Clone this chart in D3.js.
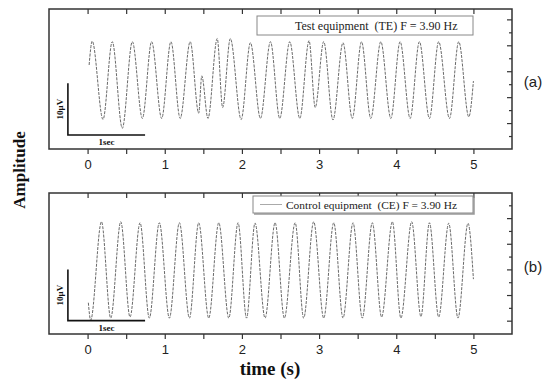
<!DOCTYPE html>
<html>
<head>
<meta charset="utf-8">
<script src="https://cdn.jsdelivr.net/npm/d3@7"></script>
<style>
  html, body { margin: 0; padding: 0; background: #fff; }
  svg { display: block; }
</style>
</head>
<body>
<svg id="chart" width="550" height="383"></svg>
<script>
// ---- data ----
const xTicks = [-0.5, 0, 0.5, 1, 1.5, 2, 2.5, 3, 3.5, 4, 4.5, 5, 5.5];
const xTickLabels = ["0", "1", "2", "3", "4", "5"];

// Test equipment (TE): successive samples at peaks/troughs, time (s) and amplitude (µV)
const teTimes = [0.02, 0.06, 0.20, 0.32, 0.45, 0.58, 0.71, 0.83, 0.96, 1.08, 1.20, 1.33, 1.44, 1.48, 1.56, 1.68, 1.75, 1.85, 1.99, 2.11, 2.24, 2.37, 2.49, 2.62, 2.75, 2.87, 2.95, 3.06, 3.18, 3.31, 3.43, 3.55, 3.67, 3.80, 3.93, 4.05, 4.18, 4.30, 4.43, 4.55, 4.69, 4.81, 4.94, 5.00];
const teValues = [1.2, 5.8, -9.3, 5.7, -11.0, 5.7, -9.1, 5.7, -9.1, 5.7, -9.1, 5.7, -8.1, -0.9, -9.1, 6.3, -7.0, 6.3, -9.3, 5.5, -9.1, 5.7, -9.1, 5.7, -9.1, 5.9, -7.0, 5.7, -9.4, 5.5, -9.1, 5.7, -9.1, 5.7, -9.1, 5.7, -9.1, 5.7, -9.1, 5.7, -9.1, 5.7, -8.8, -1.9];

// Control equipment (CE)
const ceTimes = [0.01, 0.04, 0.18, 0.30, 0.43, 0.55, 0.68, 0.80, 0.93, 1.06, 1.19, 1.32, 1.44, 1.57, 1.70, 1.83, 1.95, 2.06, 2.17, 2.30, 2.43, 2.55, 2.69, 2.80, 2.93, 3.06, 3.19, 3.31, 3.44, 3.56, 3.69, 3.81, 3.95, 4.06, 4.20, 4.32, 4.43, 4.55, 4.68, 4.80, 4.93, 5.00];
const ceValues = [-6.5, -9.9, 9.3, -9.5, 9.3, -9.3, 9.1, -9.5, 9.1, -9.5, 9.1, -9.5, 9.1, -9.5, 9.1, -9.5, 9.1, -9.5, 9.05, -9.5, 9.1, -9.5, 9.1, -9.5, 9.3, -9.5, 9.1, -9.5, 9.1, -9.5, 9.1, -9.3, 9.3, -9.5, 9.3, -9.2, 9.1, -9.3, 9.0, -9.5, 9.0, -1.9];

const legendTexts = ["Test equipment  (TE) F = 3.90 Hz", "Control equipment  (CE) F = 3.90 Hz"];
const panelLabels = ["(a)", "(b)"];
const yTicksTop = [-12.5, -10, -7.5, -5, -2.5, 0, 2.5, 5, 7.5, 10];
const yTicksBottom = [-10, -7.5, -5, -2.5, 0, 2.5, 5, 7.5, 10, 12.5];
// scale bars: origin time, origin amplitude, 1 s, 10 µV
const scaleBarTop = [-0.255, -12.3, 1, 10];
const scaleBarBottom = [-0.255, -10.0, 1, 10];

// ---- layout ----
const svg = d3.select("#chart");
const L = 49, R = 512;
const panels = [
  { top: 9, bottom: 149, yDom: [-15, 12], times: teTimes, values: teValues, yTicks: yTicksTop,
    legend: legendTexts[0], label: panelLabels[0], bar: scaleBarTop,
    box: [257, 16, 216, 19], sample: false, fs: 12 },
  { top: 193, bottom: 334, yDom: [-12.6, 14.9], times: ceTimes, values: ceValues, yTicks: yTicksBottom,
    legend: legendTexts[1], label: panelLabels[1], bar: scaleBarBottom,
    box: [253, 196, 220, 17], sample: true, fs: 11.4 }
];

const x = d3.scaleLinear().domain([-0.5, 5.5]).range([L, R]);
const frameColor = "#333";

panels.forEach(p => {
  const y = d3.scaleLinear().domain(p.yDom).range([p.bottom, p.top]);
  const g = svg.append("g");

  // signal
  const line = d3.line()
    .x((d, i) => x(p.times[i]))
    .y((d, i) => y(p.values[i]))
    .curve(d3.curveMonotoneX);
  g.append("path")
    .datum(p.values)
    .attr("d", line)
    .attr("fill", "none")
    .attr("stroke", "#6a6a6a")
    .attr("stroke-width", 1)
    .attr("stroke-dasharray", "3,1.2");

  // bottom axis (outward ticks)
  const xb = d3.axisBottom(x).tickValues(xTicks.filter(t => t > -0.5 && t < 5.5))
    .tickSize(5).tickPadding(6)
    .tickFormat(d => Number.isInteger(d) ? xTickLabels[d] : "");
  const gb = g.append("g").attr("transform", `translate(0,${p.bottom})`).call(xb);
  gb.select(".domain").remove();
  gb.selectAll("line").attr("stroke", frameColor).attr("stroke-width", 1.2);
  gb.selectAll("text").attr("font-family", "'Liberation Sans', Arial, sans-serif")
    .attr("font-size", 13).attr("fill", "#222");

  // top axis (inward ticks)
  const xt = d3.axisBottom(x).tickValues(xTicks.filter(t => t > -0.5 && t < 5.5))
    .tickSize(5).tickFormat("");
  const gt = g.append("g").attr("transform", `translate(0,${p.top})`).call(xt);
  gt.select(".domain").remove();
  gt.selectAll("line").attr("stroke", frameColor).attr("stroke-width", 1.2);

  // right axis (inward ticks, major/minor)
  const yr = d3.axisRight(y).tickValues(p.yTicks).tickSize(0).tickFormat("");
  const gr = g.append("g").attr("transform", `translate(${R},0)`).call(yr);
  gr.select(".domain").remove();
  gr.selectAll(".tick line")
    .attr("x2", d => (d % 5 === 0) ? -5 : -3)
    .attr("stroke", frameColor).attr("stroke-width", 1.2);

  // frame
  g.append("rect")
    .attr("x", L).attr("y", p.top)
    .attr("width", R - L).attr("height", p.bottom - p.top)
    .attr("fill", "none").attr("stroke", frameColor).attr("stroke-width", 1.5);

  // legend box
  const [bx, by, bw, bh] = p.box;
  if (p.sample) {
    g.append("path")
      .attr("d", `M${bx + 1},${by + bh + 1}H${bx + bw + 1}V${by + 1}`)
      .attr("fill", "none").attr("stroke", "#999").attr("stroke-width", 1.5);
  }
  g.append("rect").attr("x", bx).attr("y", by).attr("width", bw).attr("height", bh)
    .attr("fill", "#fff").attr("stroke", "#888").attr("stroke-width", 1);
  if (p.sample) {
    g.append("line").attr("x1", bx + 7).attr("x2", bx + 29)
      .attr("y1", by + bh / 2).attr("y2", by + bh / 2)
      .attr("stroke", "#aaa").attr("stroke-width", 1);
    g.append("text").attr("x", bx + 33).attr("y", by + bh / 2 + 4)
      .style("white-space", "pre")
      .attr("font-family", "'Liberation Serif', 'Times New Roman', serif")
      .attr("font-size", p.fs).attr("fill", "#222").text(p.legend);
  } else {
    g.append("text").attr("x", bx + 38).attr("y", by + bh / 2 + 4)
      .style("white-space", "pre")
      .attr("font-family", "'Liberation Serif', 'Times New Roman', serif")
      .attr("font-size", p.fs).attr("fill", "#222").text(p.legend);
  }

  // scale bar
  const [t0, v0, dt, dv] = p.bar;
  g.append("path")
    .attr("d", `M${x(t0)},${y(v0 + dv)}V${y(v0)}H${x(t0 + dt)}`)
    .attr("fill", "none").attr("stroke", "#111").attr("stroke-width", 1.6);
  const midY = (y(v0 + dv) + y(v0)) / 2;
  g.append("text")
    .attr("transform", `translate(${x(t0) - 5},${midY}) rotate(-90)`)
    .attr("text-anchor", "middle")
    .attr("font-family", "'Liberation Serif', 'Times New Roman', serif")
    .attr("font-weight", "bold").attr("font-size", 9).attr("fill", "#111")
    .text("10µV");
  g.append("text")
    .attr("x", x(t0 + dt / 2)).attr("y", y(v0) + 10)
    .attr("text-anchor", "middle")
    .attr("font-family", "'Liberation Serif', 'Times New Roman', serif")
    .attr("font-weight", "bold").attr("font-size", 9).attr("fill", "#111")
    .text("1sec");

  // panel label
  g.append("text")
    .attr("x", 533).attr("y", (p.top + p.bottom) / 2 + 8)
    .attr("text-anchor", "middle")
    .attr("font-family", "'Liberation Sans', Arial, sans-serif")
    .attr("font-size", 15).attr("fill", "#222")
    .text(p.label);
});

// axis titles
svg.append("text")
  .attr("x", 270).attr("y", 375)
  .attr("text-anchor", "middle")
  .attr("font-family", "'Liberation Serif', 'Times New Roman', serif")
  .attr("font-weight", "bold").attr("font-size", 19).attr("fill", "#111")
  .text("time (s)");
svg.append("text")
  .attr("transform", "translate(25,170) rotate(-90)")
  .attr("text-anchor", "middle")
  .attr("font-family", "'Liberation Serif', 'Times New Roman', serif")
  .attr("font-weight", "bold").attr("font-size", 17).attr("fill", "#111")
  .text("Amplitude");
</script>
</body>
</html>
